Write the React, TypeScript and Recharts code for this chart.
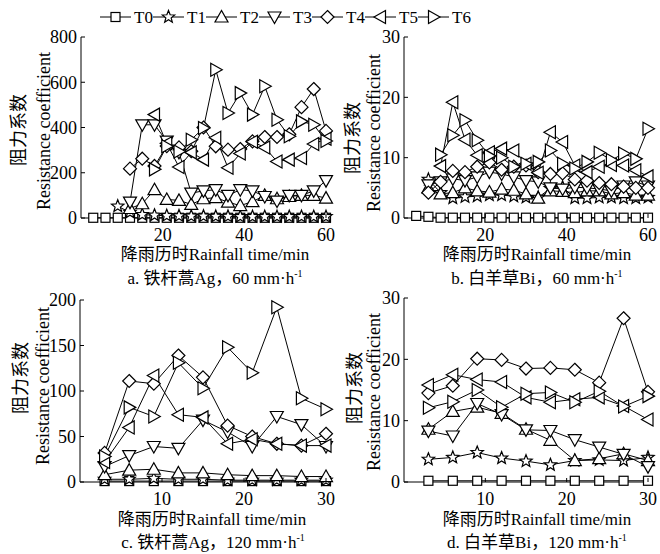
import React from 'react';
import { LineChart, Line, XAxis, YAxis } from 'recharts';

const FONT = '"Liberation Serif", "Times New Roman", "DejaVu Serif", serif, "Noto Sans CJK SC"';
const N = null;

// ---- data ----
const timesA = [3, 6, 9, 12, 15, 18, 21, 24, 27, 30, 33, 36, 39, 42, 45, 48, 51, 54, 57, 60];
const timesC = [3, 6, 9, 12, 15, 18, 21, 24, 27, 30];
const seriesNames = ['T0', 'T1', 'T2', 'T3', 'T4', 'T5', 'T6'];

// a. 铁杆蒿Ag, 60 mm/h
const aT0 = [1, 1, 1, 1, 1, 1, 1, 1, 1, 1, 1, 1, 1, 1, 1, 1, 1, 1, 1, 1];
const aT1 = [N, N, 52, 25, 15, 12, 10, 9, 8, 8, 7, 7, 6, 6, 6, 6, 6, 6, 6, 6];
const aT2 = [N, N, N, 42, 63, 125, 82, 78, 60, 85, 90, 70, 55, 72, 100, 85, 95, 100, 100, 88];
const aT3 = [N, N, N, 70, 412, 412, 340, 290, 110, 120, 125, 100, 125, 120, 95, 75, 100, 100, 120, 165];
const aT4 = [N, N, N, 218, 262, 230, 318, 312, 295, 400, 317, 302, 305, 339, 358, 358, 370, 490, 570, 385];
const aT5 = [N, N, N, N, N, 457, 330, 225, 290, 258, 355, 222, 285, 337, 312, 250, 258, 265, 327, 350];
const aT6 = [N, N, N, N, N, 215, 317, 294, 346, 398, 655, 464, 552, 457, 582, 434, 361, 427, 412, 340];

// b. 白羊草Bi, 60 mm/h
const bT0 = [0.35, 0.2, 0.05, 0.05, 0.05, 0.05, 0.05, 0.05, 0.05, 0.05, 0.05, 0.05, 0.05, 0.05, 0.05, 0.05, 0.05, 0.05, 0.05, 0.05];
const bT1 = [N, 6.4, 4.2, 3.3, 3.5, 3.6, 3.8, 3.8, 3.6, 3.4, 3.4, 4.9, 5.1, 3.3, 3.3, 3.4, 3.4, 3.3, 3.3, 3.4];
const bT2 = [N, 5.0, 4.0, 4.2, 5.0, 4.5, 4.3, 4.8, 4.6, 4.0, 3.3, 4.5, 4.4, 4.2, 4.5, 4.5, 4.0, 4.2, 3.8, 3.8];
const bT3 = [N, 5.5, 6.0, 6.5, 6.2, 6.8, 7.6, 7.3, 6.8, 6.2, 6.0, 5.0, 4.8, 5.1, 5.0, 4.8, 4.5, 5.3, 6.0, 5.3];
const bT4 = [N, 4.2, 6.0, 7.8, 7.6, 8.5, 9.2, 8.0, 8.5, 8.7, 7.6, 7.3, 7.4, 6.4, 6.2, 5.8, 5.6, 5.2, 5.0, 5.0];
const bT5 = [N, N, 8.6, 19.2, 13.0, 10.4, 10.9, 11.5, 11.2, 9.0, 7.5, 14.2, 12.6, 8.7, 7.6, 8.5, 8.8, 8.7, 7.9, 6.9];
const bT6 = [N, N, 10.5, 13.7, 16.2, 12.9, 10.3, 10.0, 8.5, 9.0, 9.3, 11.2, 9.0, 8.2, 9.3, 10.8, 9.6, 10.7, 9.8, 14.8];

// c. 铁杆蒿Ag, 120 mm/h
const cT0 = [1, 1, 1, 1, 1, 1, 1, 1, 1, 1];
const cT1 = [3, 3, 4, 3, 3, 2, 2, 2, 2, 2];
const cT2 = [8, 13, 14, 10, 10, 8, 7, 7, 6, 6];
const cT3 = [17, 29, 39, 37, 68, 55, 39, 72, 63, 39];
const cT4 = [32, 111, 108, 139, 115, 62, 50, 42, 40, 53];
const cT5 = [22, 60, 117, 74, 71, 42, 47, 42, 40, 40];
const cT6 = [28, 82, 72, 131, 103, 148, 120, 192, 92, 80];

// d. 白羊草Bi, 120 mm/h
const dT0 = [0.2, 0.2, 0.2, 0.2, 0.2, 0.2, 0.2, 0.2, 0.2, 0.2];
const dT1 = [3.7, 4.0, 4.8, 3.9, 3.4, 2.8, 3.5, 3.6, 3.5, 4.0];
const dT2 = [8.6, 11.5, 12.2, 11.2, 8.6, 6.8, 3.5, 3.8, 4.6, 3.5];
const dT3 = [8.3, 7.5, 12.8, 11.0, 8.5, 8.4, 6.9, 5.7, 4.5, 2.5];
const dT4 = [14.5, 15.7, 20.1, 19.9, 18.5, 18.6, 18.3, 16.2, 26.7, 14.7];
const dT5 = [15.8, 17.5, 16.7, 16.3, 13.8, 13.0, 13.5, 13.8, 12.4, 10.2];
const dT6 = [12.1, 13.1, 15.0, 12.2, 14.4, 14.6, 13.0, 14.8, 12.3, 14.0];

const yTicksA = [0, 200, 400, 600, 800];
const yTicksB = [0, 10, 20, 30];
const yTicksC = [0, 50, 100, 150, 200];
const yTicksD = [0, 10, 20, 30];
const xTicks60 = [20, 40, 60];
const xTicks30 = [10, 20, 30];

const buildRows = (times: number[], series: (number | null)[][]) =>
  times.map((t, i) => {
    const r: any = { t };
    series.forEach((s, k) => {
      r[seriesNames[k]] = s[i];
    });
    return r;
  });

const rowsA = buildRows(timesA, [aT0, aT1, aT2, aT3, aT4, aT5, aT6]);
const rowsB = buildRows(timesA, [bT0, bT1, bT2, bT3, bT4, bT5, bT6]);
const rowsC = buildRows(timesC, [cT0, cT1, cT2, cT3, cT4, cT5, cT6]);
const rowsD = buildRows(timesC, [dT0, dT1, dT2, dT3, dT4, dT5, dT6]);

// ---- markers ----
const MARKERS = ['square', 'star', 'up', 'down', 'diamond', 'left', 'right'];

function Marker({ kind, cx, cy }: { kind: string; cx: number; cy: number }) {
  const common = { fill: '#fff', stroke: '#000', strokeWidth: 1.2 };
  const r = 6.5;
  const s = 5;
  switch (kind) {
    case 'square':
      return <rect x={cx - 4.5} y={cy - 4.5} width={9} height={9} {...common} />;
    case 'star': {
      const pts: string[] = [];
      for (let i = 0; i < 10; i++) {
        const ang = -Math.PI / 2 + (i * Math.PI) / 5;
        const rad = i % 2 === 0 ? 6.5 : 2.8;
        pts.push(`${cx + rad * Math.cos(ang)},${cy + rad * Math.sin(ang)}`);
      }
      return <polygon points={pts.join(' ')} {...common} />;
    }
    case 'up':
      return <polygon points={`${cx},${cy - r} ${cx - r},${cy + s} ${cx + r},${cy + s}`} {...common} />;
    case 'down':
      return <polygon points={`${cx},${cy + r} ${cx - r},${cy - s} ${cx + r},${cy - s}`} {...common} />;
    case 'diamond':
      return <polygon points={`${cx},${cy - r} ${cx + r},${cy} ${cx},${cy + r} ${cx - r},${cy}`} {...common} />;
    case 'left':
      return <polygon points={`${cx - r},${cy} ${cx + s},${cy - r} ${cx + s},${cy + r}`} {...common} />;
    case 'right':
      return <polygon points={`${cx + r},${cy} ${cx - s},${cy - r} ${cx - s},${cy + r}`} {...common} />;
    default:
      return null;
  }
}

// ---- ticks (inward tick marks) ----
const Y_MARGIN = 4;
const X_MARGIN = 10;
const textStyle = { fontFamily: FONT };

const YTick = (props: any) => {
  const { x, y, payload } = props;
  return (
    <g>
      <text x={x} y={y} dy="0.36em" textAnchor="end" fontSize={18} style={textStyle} fill="#000">
        {payload.value}
      </text>
      <line x1={x + Y_MARGIN} y1={y} x2={x + Y_MARGIN + 4} y2={y} stroke="#000" strokeWidth={1} />
    </g>
  );
};

const XTick = (props: any) => {
  const { x, y, payload } = props;
  return (
    <g>
      <text x={x} y={y} dy="0.71em" textAnchor="middle" fontSize={18} style={textStyle} fill="#000">
        {payload.value}
      </text>
      <line x1={x} y1={y - X_MARGIN} x2={x} y2={y - X_MARGIN - 4} stroke="#000" strokeWidth={1} />
    </g>
  );
};

type Box = { x0: number; x1: number; y0: number; y1: number };

function Panel({ box, rows, xDomain, xTicks, yDomain, yTicks }: {
  box: Box; rows: any[]; xDomain: number[]; xTicks: number[]; yDomain: number[]; yTicks: number[];
}) {
  const ML = 60, MT = 15, MR = 14, MB = 30;
  const w = box.x1 - box.x0;
  const h = box.y1 - box.y0;
  return (
    <div style={{ position: 'absolute', left: box.x0 - ML, top: box.y0 - MT }}>
      <LineChart width={w + ML + MR} height={h + MT + MB} data={rows} margin={{ top: MT, right: MR, left: 0, bottom: 0 }}>
        <XAxis
          dataKey="t"
          type="number"
          domain={xDomain}
          ticks={xTicks}
          interval={0}
          height={MB}
          tickSize={0}
          tickMargin={X_MARGIN}
          tickLine={false}
          axisLine={{ stroke: '#000', strokeWidth: 1 }}
          tick={<XTick />}
        />
        <YAxis
          type="number"
          domain={yDomain}
          ticks={yTicks}
          interval={0}
          width={ML}
          tickSize={0}
          tickMargin={Y_MARGIN}
          tickLine={false}
          axisLine={{ stroke: '#000', strokeWidth: 1 }}
          tick={<YTick />}
        />
        {seriesNames.map((name, k) => (
          <Line
            key={name}
            dataKey={name}
            type="linear"
            stroke="#000"
            strokeWidth={1}
            isAnimationActive={false}
            activeDot={false}
            dot={(p: any) =>
              p.cx == null || p.cy == null || p.value == null ? (
                <g key={`${name}-${p.index}`} />
              ) : (
                <Marker key={`${name}-${p.index}`} kind={MARKERS[k]} cx={p.cx} cy={p.cy} />
              )
            }
          />
        ))}
      </LineChart>
    </div>
  );
}

const boxA: Box = { x0: 81, x1: 326, y0: 37, y1: 218 };
const boxB: Box = { x0: 404, x1: 648, y0: 37, y1: 218 };
const boxC: Box = { x0: 80, x1: 326, y0: 300, y1: 482 };
const boxD: Box = { x0: 404, x1: 648, y0: 298, y1: 482 };

function RotLabel({ x, y, children }: { x: number; y: number; children: React.ReactNode }) {
  return (
    <text
      transform={`translate(${x},${y}) rotate(-90)`}
      textAnchor="middle"
      dominantBaseline="central"
      fontSize={18}
      style={textStyle}
      fill="#000"
    >
      {children}
    </text>
  );
}

function CenterText({ x, y, children }: { x: number; y: number; children: React.ReactNode }) {
  return (
    <text x={x} y={y} textAnchor="middle" dominantBaseline="central" fontSize={17} style={textStyle} fill="#000">
      {children}
    </text>
  );
}

function Caption({ x, y, prefix, rate }: { x: number; y: number; prefix: string; rate: string }) {
  return (
    <text x={x} y={y + 5} textAnchor="middle" fontSize={17} style={textStyle} fill="#000">
      {prefix}
      {rate} mm·h
      <tspan fontSize={10} dy={-7}>-1</tspan>
    </text>
  );
}

function LegendRow() {
  const startX = 100;
  const step = 53;
  const y = 17;
  return (
    <g>
      {seriesNames.map((name, k) => {
        const x = startX + k * step;
        return (
          <g key={name}>
            <line x1={x} y1={y} x2={x + 31} y2={y} stroke="#000" strokeWidth={1} />
            <Marker kind={MARKERS[k]} cx={x + 15.5} cy={y} />
            <text x={x + 34} y={y} dominantBaseline="central" fontSize={17} style={textStyle} fill="#000">
              {name}
            </text>
          </g>
        );
      })}
    </g>
  );
}

export default function App() {
  return (
    <div style={{ position: 'absolute', left: 0, top: 0, width: 660, height: 554, background: '#fff', overflow: 'hidden', fontFamily: FONT }}>
      <Panel box={boxA} rows={rowsA} xDomain={[0, 60]} xTicks={xTicks60} yDomain={[0, 800]} yTicks={yTicksA} />
      <Panel box={boxB} rows={rowsB} xDomain={[0, 60]} xTicks={xTicks60} yDomain={[0, 30]} yTicks={yTicksB} />
      <Panel box={boxC} rows={rowsC} xDomain={[0, 30]} xTicks={xTicks30} yDomain={[0, 200]} yTicks={yTicksC} />
      <Panel box={boxD} rows={rowsD} xDomain={[0, 30]} xTicks={xTicks30} yDomain={[0, 30]} yTicks={yTicksD} />
      <svg width={660} height={554} style={{ position: 'absolute', left: 0, top: 0, pointerEvents: 'none' }}>
        <LegendRow />
        <RotLabel x={19} y={130}>阻力系数</RotLabel>
        <RotLabel x={44} y={131}>Resistance coefficient</RotLabel>
        <RotLabel x={353} y={138}>阻力系数</RotLabel>
        <RotLabel x={374} y={133}>Resistance coefficient</RotLabel>
        <RotLabel x={21} y={378}>阻力系数</RotLabel>
        <RotLabel x={43} y={386}>Resistance coefficient</RotLabel>
        <RotLabel x={355} y={388}>阻力系数</RotLabel>
        <RotLabel x={374} y={392}>Resistance coefficient</RotLabel>
        <CenterText x={215} y={254}>降雨历时Rainfall time/min</CenterText>
        <CenterText x={537} y={254}>降雨历时Rainfall time/min</CenterText>
        <CenterText x={212} y={519}>降雨历时Rainfall time/min</CenterText>
        <CenterText x={537} y={519}>降雨历时Rainfall time/min</CenterText>
        <Caption x={215} y={279} prefix="a. 铁杆蒿Ag，" rate="60" />
        <Caption x={537} y={279} prefix="b. 白羊草Bi，" rate="60" />
        <Caption x={213} y={543} prefix="c. 铁杆蒿Ag，" rate="120" />
        <Caption x={537} y={543} prefix="d. 白羊草Bi，" rate="120" />
      </svg>
    </div>
  );
}
